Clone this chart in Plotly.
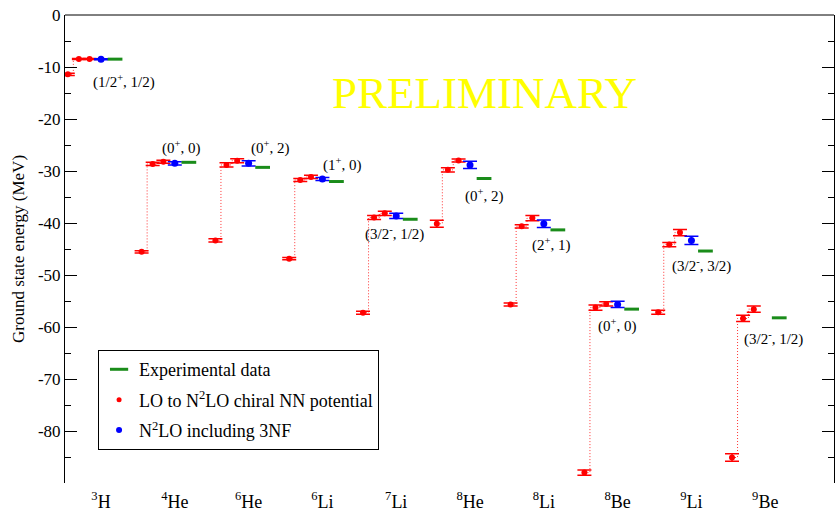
import plotly.graph_objects as go

# Nuclei on the x axis and their (J^pi, T) ground-state quantum numbers
nuclei = ["<sup>3</sup>H", "<sup>4</sup>He", "<sup>6</sup>He", "<sup>6</sup>Li", "<sup>7</sup>Li",
          "<sup>8</sup>He", "<sup>8</sup>Li", "<sup>8</sup>Be", "<sup>9</sup>Li", "<sup>9</sup>Be"]
states = ["(1/2<sup>+</sup>, 1/2)", "(0<sup>+</sup>, 0)", "(0<sup>+</sup>, 2)", "(1<sup>+</sup>, 0)",
          "(3/2<sup>-</sup>, 1/2)", "(0<sup>+</sup>, 2)", "(2<sup>+</sup>, 1)", "(0<sup>+</sup>, 0)",
          "(3/2<sup>-</sup>, 3/2)", "(3/2<sup>-</sup>, 1/2)"]

# Ground state energies (MeV)
e_exp = [-8.48, -28.30, -29.27, -31.99, -39.24, -31.41, -41.28, -56.50, -45.34, -58.17]
e_lo = [-11.4, -45.5, -43.3, -46.8, -57.2, -40.1, -55.6, -87.9, -57.1, -85.0]
e_nlo = [-8.45, -28.6, -28.8, -31.7, -38.9, -29.75, -40.6, -56.2, -44.1, -58.3]
e_n2lo = [-8.45, -28.2, -28.0, -31.1, -38.1, -27.95, -39.0, -55.5, -41.8, -56.5]
err_lo = [0.2, 0.2, 0.3, 0.2, 0.3, 0.65, 0.3, 0.5, 0.4, 0.7]
err_nlo = [0.1, 0.3, 0.4, 0.3, 0.4, 0.4, 0.3, 0.5, 0.4, 0.6]
err_n2lo = [0.1, 0.3, 0.4, 0.3, 0.4, 0.3, 0.5, 0.4, 0.6, 0.6]
# N2LO with three-nucleon force (not available for 9Be)
e_3nf = [-8.5, -28.5, -28.5, -31.5, -38.6, -28.8, -40.1, -55.6, -43.3]
err_3nf = [0.1, 0.3, 0.5, 0.3, 0.5, 0.7, 0.7, 0.6, 0.8]

# horizontal placement of each series inside a nucleus column
OFF_LO, OFF_NLO, OFF_N2LO, OFF_3NF = -0.45, -0.30, -0.155, 0.0
EXP_X0, EXP_X1 = 0.09, 0.29
# (dx, y) anchor of each quantum-number label
label_pos = [(0.31, -12.8), (1.084, -25.4), (2.29, -25.4), (3.265, -28.8), (3.974, -42.0),
             (5.185, -34.7), (6.098, -44.0), (6.988, -59.7), (8.134, -48.2), (9.11, -62.05)]

SERIF = "Liberation Serif, Times New Roman, serif"
RED, BLUE, GREEN = "#ff0000", "#0000ff", "#1a8c1a"

fig = go.Figure()

# legend entries
fig.add_trace(go.Scatter(x=[None], y=[None], mode="markers", name="Experimental data",
                         marker=dict(symbol="line-ew", size=13, line=dict(width=3, color=GREEN)),
                         legendgroup="a"))
fig.add_trace(go.Scatter(x=[None], y=[None], mode="markers",
                         name="LO to N<sup>2</sup>LO chiral NN potential",
                         marker=dict(symbol="circle", size=5, color=RED), legendgroup="b"))
fig.add_trace(go.Scatter(x=[None], y=[None], mode="markers", name="N<sup>2</sup>LO including 3NF",
                         marker=dict(symbol="circle", size=6, color=BLUE), legendgroup="c"))

# dotted stair connecting LO -> NLO -> N2LO for each nucleus
lx, ly = [], []
for i in range(len(nuclei)):
    lx += [i + OFF_LO, i + OFF_NLO, i + OFF_N2LO, None]
    ly += [e_lo[i], e_nlo[i], e_n2lo[i], None]
fig.add_trace(go.Scatter(x=lx, y=ly, mode="lines", showlegend=False, hoverinfo="skip",
                         line=dict(color="rgba(255,0,0,0.8)", width=1, dash="1px,2px", shape="hvh")))

# red points with error bars
rx, ry, re = [], [], []
for i in range(len(nuclei)):
    rx += [i + OFF_LO, i + OFF_NLO, i + OFF_N2LO]
    ry += [e_lo[i], e_nlo[i], e_n2lo[i]]
    re += [err_lo[i], err_nlo[i], err_n2lo[i]]
fig.add_trace(go.Scatter(x=rx, y=ry, mode="markers", showlegend=False,
                         marker=dict(symbol="circle", size=6, color=RED),
                         error_y=dict(type="data", array=re, color=RED, thickness=1.5, width=7)))

# blue points with error bars
bx = [i + OFF_3NF for i in range(len(e_3nf))]
fig.add_trace(go.Scatter(x=bx, y=e_3nf, mode="markers", showlegend=False,
                         marker=dict(symbol="circle", size=7, color=BLUE),
                         error_y=dict(type="data", array=err_3nf, color=BLUE, thickness=1.5, width=7)))

# experimental levels as short green bars
gx, gy = [], []
for i, e in enumerate(e_exp):
    gx += [i + EXP_X0, i + EXP_X1, None]
    gy += [e, e, None]
fig.add_trace(go.Scatter(x=gx, y=gy, mode="lines", showlegend=False,
                         line=dict(color=GREEN, width=3)))

annotations = []
for s, (dx, yv) in zip(states, label_pos):
    annotations.append(dict(x=dx, y=yv, xref="x", yref="y", text=s, showarrow=False,
                            font=dict(family=SERIF, size=15, color="black"),
                            xanchor="center", yanchor="middle"))
annotations.append(dict(x=5.2, y=-15.0, xref="x", yref="y", text="PRELIMINARY", showarrow=False,
                        font=dict(family=SERIF, size=45, color="#ffff00"),
                        xanchor="center", yanchor="middle"))

yt = list(range(0, -81, -10))
fig.update_layout(
    width=835, height=512,
    margin=dict(l=65, r=1, t=15, b=29),
    paper_bgcolor="white", plot_bgcolor="white",
    font=dict(family=SERIF, color="black"),
    xaxis=dict(range=[-0.488, 9.932], tickmode="array", tickvals=list(range(len(nuclei))),
               ticktext=nuclei, ticks="", showline=False, showgrid=False, zeroline=False,
               ticklabelstandoff=6, automargin=False,
               tickfont=dict(family=SERIF, size=18, color="black")),
    yaxis=dict(range=[-89.9, 0], tickmode="array", tickvals=yt, ticktext=[str(v) for v in yt],
               ticks="inside", ticklen=12, tickwidth=1, tickcolor="black",
               minor=dict(tickvals=[v - 5 for v in yt], ticks="inside", ticklen=6,
                          tickwidth=1, tickcolor="black"),
               showline=True, linecolor="black", linewidth=1, mirror="ticks",
               showgrid=False, zeroline=False, automargin=False,
               tickfont=dict(family=SERIF, size=17, color="black"),
               title=dict(text="Ground state energy (MeV)", font=dict(family=SERIF, size=17),
                          standoff=8)),
    legend=dict(x=0.043, y=0.284, xanchor="left", yanchor="top", bgcolor="white",
                bordercolor="black", borderwidth=1, font=dict(family=SERIF, size=18),
                itemwidth=30, tracegroupgap=4),
    annotations=annotations,
    shapes=[dict(type="line", xref="paper", yref="paper", x0=0, x1=1, y0=1, y1=1,
                 line=dict(color="black", width=1))],
    showlegend=True,
)

fig.write_html("out.html")
